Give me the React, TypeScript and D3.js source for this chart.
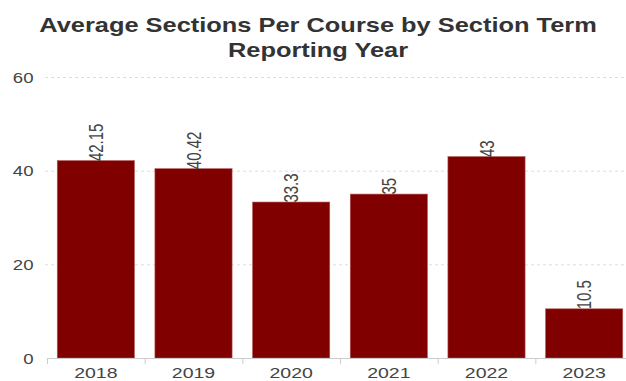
import React from "react";
import * as d3 from "d3";

const categories = ["2018", "2019", "2020", "2021", "2022", "2023"];
const values = [42.15, 40.42, 33.3, 35, 43, 10.5];
const valueLabels = ["42.15", "40.42", "33.3", "35", "43", "10.5"];
const yTicks = [0, 20, 40, 60];
const titleLines = ["Average Sections Per Course by Section Term", "Reporting Year"];

const W = 626;
const H = 381;
const FONT = "'Liberation Sans', Arial, sans-serif";

export default function App() {
  const x = d3.scaleBand<string>().domain(categories).range([47, 633]).paddingInner(0.21).paddingOuter(0.105);
  const y = d3.scaleLinear().domain([0, 60]).range([358, 77]);
  const step = x.step();
  const bandStart = (c: string) => x(c)! - (step - x.bandwidth()) / 2;

  return (
    <svg width={W} height={H} style={{ position: "absolute", left: 0, top: 0, background: "#fff" }}>
      <g fontFamily={FONT}>
        {titleLines.map((t, i) => (
          <text
            key={t}
            transform={`translate(318,${31.7 + i * 25}) scale(1.21,1)`}
            textAnchor="middle"
            fontSize={21}
            fontWeight="bold"
            fill="#333"
          >
            {t}
          </text>
        ))}
        {yTicks.map((t) => (
          <g key={t}>
            {t > 0 && (
              <line x1={45} x2={626} y1={y(t) + 0.5} y2={y(t) + 0.5} stroke="#ddd" strokeDasharray="3,3" strokeWidth={1} />
            )}
            <text
              transform={`translate(33.5,${y(t)}) scale(1.2,1)`}
              dy="0.36em"
              textAnchor="end"
              fontSize={15.5}
              fill="#444"
            >
              {t}
            </text>
          </g>
        ))}
        {categories.map((c, i) => (
          <g key={c}>
            <rect
              x={x(c)}
              y={y(values[i])}
              width={x.bandwidth()}
              height={y(0) - y(values[i])}
              fill="#800000"
              stroke="#b25555"
              strokeWidth={0.6}
            />
            <text
              transform={`translate(${x(c)! + x.bandwidth() / 2 + 7},${y(values[i]) + 0.5}) scale(1.3,1) rotate(-90)`}
              fontSize={15}
              fill="#444"
              textAnchor="start"
            >
              {valueLabels[i]}
            </text>
            <text
              transform={`translate(${x(c)! + x.bandwidth() / 2},377.6) scale(1.3,1)`}
              textAnchor="middle"
              fontSize={15}
              fill="#444"
            >
              {c}
            </text>
          </g>
        ))}
        <line x1={47} x2={626} y1={358.5} y2={358.5} stroke="#ccc" />
        {categories.map((c) => (
          <line key={"t" + c} x1={bandStart(c) + 0.5} x2={bandStart(c) + 0.5} y1={358} y2={364} stroke="#ccc" />
        ))}
      </g>
    </svg>
  );
}
